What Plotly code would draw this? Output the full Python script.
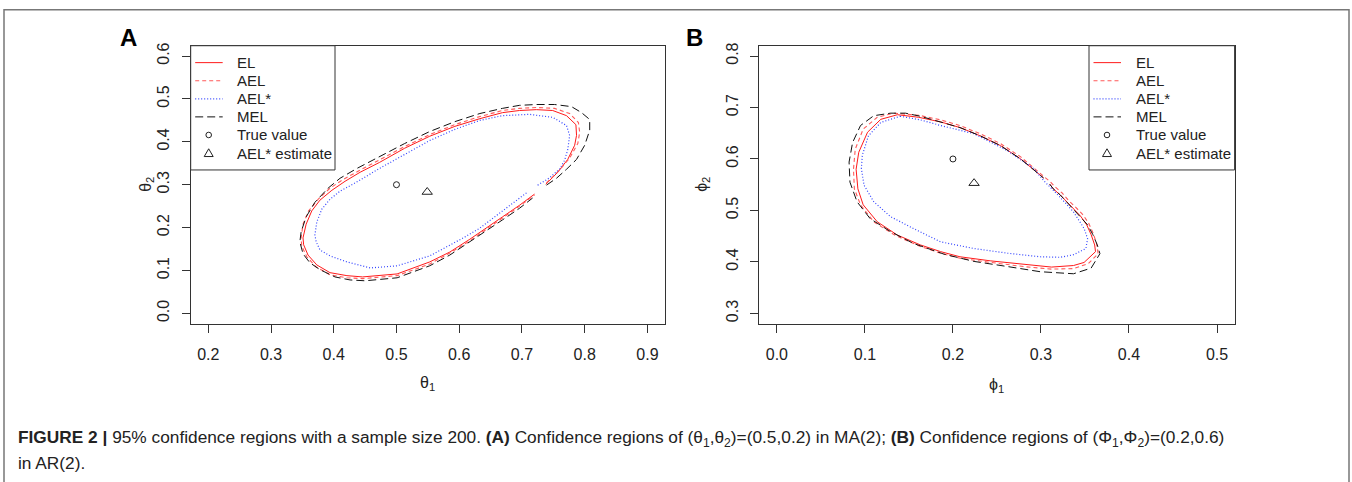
import plotly.graph_objects as go

# ---- panel A : MA(2), confidence regions for (theta1, theta2) ----
a_el_x = [0.738, 0.757, 0.773, 0.784, 0.787, 0.786, 0.771, 0.749, 0.723, 0.696, 0.669, 0.633, 0.593,
          0.553, 0.513, 0.473, 0.442, 0.418, 0.397, 0.378, 0.365, 0.356, 0.351, 0.352, 0.359, 0.373,
          0.394, 0.421, 0.446, 0.501, 0.553, 0.585, 0.617, 0.644, 0.669, 0.696, 0.720]
a_el_y = [0.301, 0.329, 0.359, 0.392, 0.415, 0.440, 0.461, 0.473, 0.475, 0.473, 0.468, 0.454, 0.436,
          0.413, 0.385, 0.352, 0.329, 0.308, 0.287, 0.264, 0.239, 0.208, 0.176, 0.160, 0.136, 0.113,
          0.095, 0.088, 0.085, 0.092, 0.120, 0.143, 0.173, 0.199, 0.225, 0.252, 0.278]

a_ael_x = [0.739, 0.758, 0.776, 0.789, 0.792, 0.790, 0.776, 0.752, 0.723, 0.696, 0.669, 0.633, 0.593,
           0.553, 0.513, 0.473, 0.442, 0.416, 0.394, 0.375, 0.360, 0.351, 0.348, 0.349, 0.357, 0.372,
           0.394, 0.421, 0.446, 0.501, 0.553, 0.585, 0.617, 0.644, 0.669, 0.696, 0.720]
a_ael_y = [0.304, 0.331, 0.362, 0.396, 0.422, 0.445, 0.466, 0.478, 0.480, 0.478, 0.473, 0.459, 0.440,
           0.417, 0.389, 0.359, 0.334, 0.313, 0.292, 0.266, 0.239, 0.208, 0.176, 0.157, 0.132, 0.108,
           0.090, 0.083, 0.081, 0.088, 0.115, 0.141, 0.169, 0.197, 0.222, 0.250, 0.276]

a_aels_x = [0.725, 0.741, 0.760, 0.768, 0.773, 0.776, 0.771, 0.749, 0.712, 0.669, 0.633, 0.593, 0.553,
            0.513, 0.473, 0.434, 0.410, 0.394, 0.381, 0.373, 0.370, 0.372, 0.378, 0.394, 0.421, 0.458,
            0.501, 0.553, 0.609, 0.633, 0.669, 0.709]
a_aels_y = [0.299, 0.313, 0.336, 0.357, 0.382, 0.415, 0.438, 0.457, 0.464, 0.461, 0.450, 0.429, 0.403,
            0.371, 0.338, 0.304, 0.285, 0.266, 0.243, 0.213, 0.183, 0.167, 0.148, 0.134, 0.120, 0.106,
            0.111, 0.134, 0.178, 0.199, 0.239, 0.283]

a_mel_x = [0.739, 0.755, 0.771, 0.787, 0.800, 0.808, 0.808, 0.795, 0.779, 0.752, 0.723, 0.696, 0.669,
           0.633, 0.593, 0.553, 0.513, 0.473, 0.437, 0.410, 0.391, 0.370, 0.356, 0.348, 0.346, 0.351,
           0.362, 0.378, 0.402, 0.426, 0.450, 0.501, 0.553, 0.585, 0.617, 0.644, 0.669, 0.696, 0.717]
a_mel_y = [0.299, 0.315, 0.336, 0.359, 0.392, 0.427, 0.452, 0.468, 0.482, 0.487, 0.487, 0.485, 0.478,
           0.466, 0.447, 0.424, 0.396, 0.366, 0.338, 0.315, 0.292, 0.259, 0.225, 0.190, 0.167, 0.139,
           0.118, 0.102, 0.085, 0.078, 0.076, 0.083, 0.111, 0.136, 0.167, 0.192, 0.218, 0.245, 0.269]

a_true = (0.5, 0.3)
a_est = (0.549, 0.283)

# ---- panel B : AR(2), confidence regions for (phi1, phi2) ----
b_el_x = [0.310, 0.314, 0.322, 0.329, 0.337, 0.345, 0.352, 0.357, 0.361, 0.362, 0.349, 0.337, 0.312,
          0.280, 0.243, 0.208, 0.186, 0.163, 0.137, 0.114, 0.098, 0.092, 0.090, 0.093, 0.103, 0.118,
          0.137, 0.161, 0.186, 0.208, 0.231, 0.254, 0.277, 0.294, 0.303]
b_el_y = [0.551, 0.542, 0.530, 0.517, 0.503, 0.489, 0.472, 0.453, 0.433, 0.420, 0.399, 0.393, 0.390,
          0.395, 0.402, 0.410, 0.420, 0.433, 0.452, 0.478, 0.511, 0.542, 0.580, 0.613, 0.652, 0.677,
          0.686, 0.681, 0.672, 0.661, 0.645, 0.626, 0.600, 0.576, 0.563]

b_ael_x = [0.311, 0.316, 0.324, 0.331, 0.339, 0.347, 0.354, 0.359, 0.363, 0.365, 0.354, 0.337, 0.312,
           0.280, 0.243, 0.208, 0.186, 0.163, 0.135, 0.110, 0.095, 0.088, 0.087, 0.089, 0.098, 0.114,
           0.132, 0.161, 0.186, 0.208, 0.231, 0.254, 0.277, 0.294, 0.304, 0.311]
b_ael_y = [0.555, 0.546, 0.534, 0.520, 0.507, 0.493, 0.476, 0.457, 0.437, 0.416, 0.397, 0.387, 0.386,
           0.391, 0.399, 0.407, 0.417, 0.430, 0.451, 0.478, 0.511, 0.542, 0.580, 0.619, 0.658, 0.681,
           0.689, 0.685, 0.676, 0.665, 0.649, 0.630, 0.604, 0.580, 0.565, 0.555]

b_aels_x = [0.140, 0.163, 0.186, 0.224, 0.262, 0.292, 0.303, 0.320, 0.337, 0.349, 0.353, 0.351, 0.337,
            0.322, 0.299, 0.262, 0.224, 0.186, 0.155, 0.129, 0.110, 0.099, 0.096, 0.097, 0.104, 0.118,
            0.140]
b_aels_y = [0.683, 0.676, 0.665, 0.649, 0.616, 0.581, 0.558, 0.529, 0.497, 0.465, 0.445, 0.426, 0.414,
            0.409, 0.410, 0.417, 0.426, 0.439, 0.465, 0.488, 0.517, 0.549, 0.581, 0.607, 0.645, 0.671,
            0.683]

b_mel_x = [0.310, 0.314, 0.322, 0.329, 0.337, 0.345, 0.353, 0.359, 0.364, 0.367, 0.357, 0.337, 0.322,
           0.299, 0.262, 0.224, 0.190, 0.155, 0.129, 0.106, 0.091, 0.083, 0.082, 0.086, 0.095, 0.110,
           0.129, 0.146, 0.163, 0.186, 0.208, 0.231, 0.254, 0.277, 0.294, 0.303]
b_mel_y = [0.551, 0.542, 0.530, 0.517, 0.503, 0.489, 0.472, 0.453, 0.433, 0.416, 0.388, 0.377, 0.378,
           0.381, 0.391, 0.401, 0.415, 0.436, 0.459, 0.484, 0.517, 0.555, 0.594, 0.632, 0.665, 0.684,
           0.689, 0.689, 0.683, 0.672, 0.661, 0.645, 0.626, 0.600, 0.576, 0.563]

b_true = (0.2, 0.6)
b_est = (0.224, 0.553)

legend_names = ["EL", "AEL", "AEL*", "MEL", "True value", "AEL* estimate"]

W, H = 1352, 482
TICKFONT = dict(family="Liberation Sans Narrow, Liberation Sans, Arial", size=16, color="#222")
LEGFONT = dict(family="Liberation Sans, Arial", size=15, color="#222")

line_styles = [
    dict(color="#ff1a1a", width=1, dash="solid"),
    dict(color="#ff5a5a", width=1.1, dash="4px,3px"),
    dict(color="#3344ff", width=1.2, dash="1px,2px"),
    dict(color="#111111", width=1, dash="8px,4px"),
]
MARK_COL = "#222"


def px_x(v):
    return v / W


def px_y(v):
    return 1 - v / H


fig = go.Figure()


def add_panel(xa, ya, curves, true_pt, est_pt):
    for name, (cx, cy), line in zip(legend_names[:4], curves, line_styles):
        fig.add_trace(go.Scatter(x=cx, y=cy, mode="lines", name=name, line=line,
                                 xaxis=xa, yaxis=ya, showlegend=False, hoverinfo="skip"))
    fig.add_trace(go.Scatter(x=[true_pt[0]], y=[true_pt[1]], mode="markers", name=legend_names[4],
                             marker=dict(symbol="circle-open", size=6, color=MARK_COL, line=dict(width=1)),
                             xaxis=xa, yaxis=ya, showlegend=False))
    fig.add_trace(go.Scatter(x=[est_pt[0]], y=[est_pt[1]], mode="markers", name=legend_names[5],
                             marker=dict(symbol="triangle-up-open", size=9, color=MARK_COL, line=dict(width=1)),
                             xaxis=xa, yaxis=ya, showlegend=False))


add_panel("x", "y", [(a_el_x, a_el_y), (a_ael_x, a_ael_y), (a_aels_x, a_aels_y), (a_mel_x, a_mel_y)],
          a_true, a_est)
add_panel("x2", "y2", [(b_el_x, b_el_y), (b_ael_x, b_ael_y), (b_aels_x, b_aels_y), (b_mel_x, b_mel_y)],
          b_true, b_est)

xa_dom = [px_x(190.7), px_x(665)]
xb_dom = [px_x(759.3), px_x(1234.6)]
y_dom = [px_y(322.7), px_y(43)]

axis_common = dict(showline=True, mirror=True, linecolor="#333", linewidth=1, ticks="outside",
                   ticklen=8, tickcolor="#333", tickwidth=1, showgrid=False, zeroline=False,
                   tickfont=TICKFONT, tickformat=".1f")

fig.update_layout(
    width=W, height=H,
    margin=dict(l=0, r=0, t=0, b=0),
    paper_bgcolor="white", plot_bgcolor="white",
    showlegend=False,
    xaxis=dict(domain=xa_dom, range=[0.172, 0.928], tickvals=[0.2, 0.3, 0.4, 0.5, 0.6, 0.7, 0.8, 0.9],
               anchor="y", ticklabelstandoff=8, **axis_common),
    yaxis=dict(domain=y_dom, range=[-0.024, 0.624], tickvals=[0.0, 0.1, 0.2, 0.3, 0.4, 0.5, 0.6],
               anchor="x", tickangle=-90, ticklabelstandoff=6, **axis_common),
    xaxis2=dict(domain=xb_dom, range=[-0.02, 0.52], tickvals=[0.0, 0.1, 0.2, 0.3, 0.4, 0.5],
                anchor="y2", ticklabelstandoff=8, **axis_common),
    yaxis2=dict(domain=y_dom, range=[0.28, 0.82], tickvals=[0.3, 0.4, 0.5, 0.6, 0.7, 0.8],
                anchor="x2", tickangle=-90, ticklabelstandoff=6, **axis_common),
)


# R-style legend boxes, drawn in pixel positions of the page
def draw_legend(left, top, right, bottom):
    fig.add_shape(type="rect", xref="paper", yref="paper", x0=px_x(left), x1=px_x(right),
                  y0=px_y(bottom), y1=px_y(top), line=dict(color="#333", width=1), fillcolor="white",
                  layer="above")
    rows = [top + 17 + 18.2 * i for i in range(6)]
    for i, name in enumerate(legend_names):
        cy = rows[i]
        if i < 4:
            st = line_styles[i]
            fig.add_shape(type="line", xref="paper", yref="paper", x0=px_x(left + 4.5), x1=px_x(left + 32),
                          y0=px_y(cy), y1=px_y(cy), layer="above",
                          line=dict(color=st["color"], width=st["width"], dash=st["dash"]))
        elif i == 4:
            cx, r = left + 18, 2.8
            fig.add_shape(type="circle", xref="paper", yref="paper", x0=px_x(cx - r), x1=px_x(cx + r),
                          y0=px_y(cy + r), y1=px_y(cy - r), layer="above", line=dict(color=MARK_COL, width=1))
        else:
            cx = left + 18
            path = "M {:.5f},{:.5f} L {:.5f},{:.5f} L {:.5f},{:.5f} Z".format(
                px_x(cx - 4.5), px_y(cy + 3.5), px_x(cx + 4.5), px_y(cy + 3.5), px_x(cx), px_y(cy - 4.3))
            fig.add_shape(type="path", xref="paper", yref="paper", path=path, layer="above",
                          line=dict(color=MARK_COL, width=1))
        fig.add_annotation(xref="paper", yref="paper", showarrow=False, xanchor="left", yanchor="middle",
                           x=px_x(left + 44.5), y=px_y(cy), text=name, font=LEGFONT)


draw_legend(190.7, 43, 335, 168)
draw_legend(1089, 43, 1234.6, 168)

title_font = dict(family="Liberation Sans Narrow, Liberation Sans, Arial", size=16, color="#222")
ann = [
    dict(text="<b>A</b>", x=px_x(128), y=px_y(35), font=dict(family="Liberation Sans, Arial", size=24, color="#000")),
    dict(text="<b>B</b>", x=px_x(694), y=px_y(35), font=dict(family="Liberation Sans, Arial", size=24, color="#000")),
    dict(text="θ<sub>1</sub>", x=(xa_dom[0] + xa_dom[1]) / 2, y=px_y(383), font=title_font),
    dict(text="ϕ<sub>1</sub>", x=(xb_dom[0] + xb_dom[1]) / 2, y=px_y(385), font=title_font),
    dict(text="θ<sub>2</sub>", x=px_x(147), y=px_y(183), textangle=-90, font=title_font),
    dict(text="ϕ<sub>2</sub>", x=px_x(703), y=px_y(183), textangle=-90, font=title_font),
]
for a in ann:
    fig.add_annotation(xref="paper", yref="paper", showarrow=False, xanchor="center", yanchor="middle", **a)

cap_font = dict(family="Liberation Sans, Arial", size=17.3, color="#222")
fig.add_annotation(xref="paper", yref="paper", showarrow=False, xanchor="left", yanchor="middle",
                   x=px_x(16), y=px_y(438), font=cap_font,
                   text="<b>FIGURE 2 |</b> 95% confidence regions with a sample size 200. <b>(A)</b> Confidence regions "
                        "of (θ<sub>1</sub>,θ<sub>2</sub>)=(0.5,0.2) in MA(2); <b>(B)</b> Confidence regions of "
                        "(Φ<sub>1</sub>,Φ<sub>2</sub>)=(0.2,0.6)")
fig.add_annotation(xref="paper", yref="paper", showarrow=False, xanchor="left", yanchor="middle",
                   x=px_x(16), y=px_y(463), font=cap_font, text="in AR(2).")

# outer figure frame (open at the bottom)
fig.add_shape(type="rect", xref="paper", yref="paper", x0=px_x(4), x1=px_x(1349), y0=-0.1, y1=px_y(6.7),
              line=dict(color="#777", width=1.5), fillcolor="rgba(0,0,0,0)", layer="below")

# the page body has a default 8px margin; drop it so the figure sits at the window origin
fig.write_html("out.html", config={"displayModeBar": False},
               post_script="document.body.style.margin='0';")
